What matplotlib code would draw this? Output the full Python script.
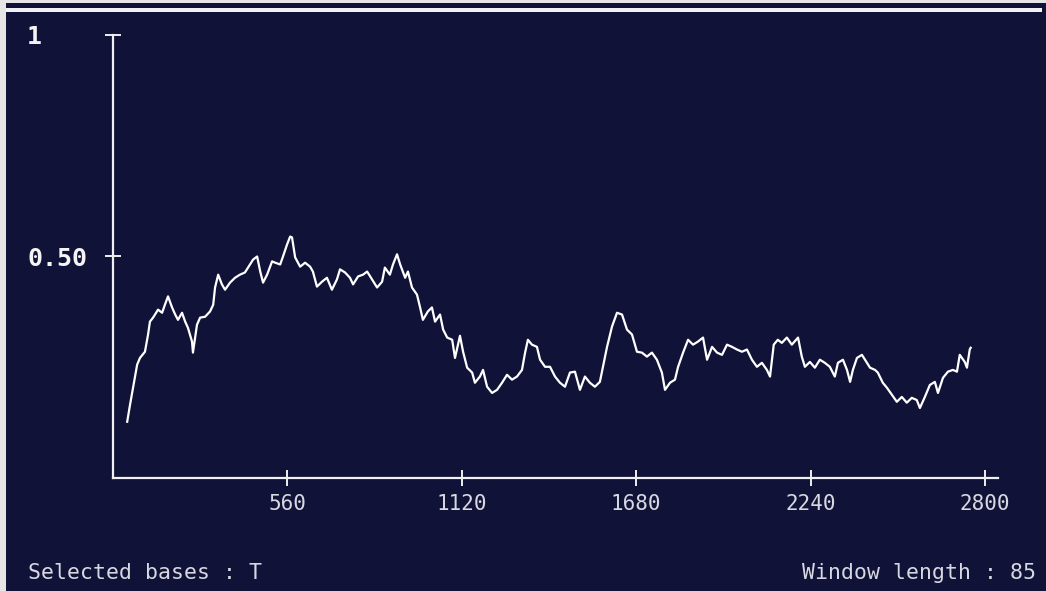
import matplotlib.pyplot as plt
from matplotlib.patches import Rectangle

# base position (centre of the 85-base window) and fraction of T in the window
position = [47, 56, 66, 79, 88, 104, 114, 120, 130, 146, 159, 168, 178, 191, 201, 210,
            223, 233, 242, 255, 258, 271, 281, 297, 313, 323, 329, 339, 351, 361, 377,
            393, 409, 425, 435, 451, 464, 474, 483, 496, 512, 522, 538, 547, 560, 570,
            576, 586, 602, 618, 634, 643, 656, 672, 688, 704, 720, 730, 746, 762, 772,
            788, 804, 817, 833, 849, 865, 874, 890, 900, 913, 923, 939, 948, 961, 977,
            987, 996, 1012, 1025, 1035, 1051, 1061, 1074, 1090, 1099, 1115, 1125, 1138,
            1154, 1163, 1179, 1189, 1202, 1218, 1234, 1250, 1266, 1282, 1298, 1314,
            1324, 1333, 1346, 1362, 1372, 1388, 1404, 1420, 1436, 1452, 1468, 1484,
            1500, 1516, 1532, 1548, 1564, 1574, 1587, 1603, 1619, 1635, 1651, 1667,
            1683, 1699, 1715, 1731, 1747, 1763, 1773, 1789, 1805, 1815, 1831, 1847,
            1863, 1879, 1895, 1908, 1924, 1940, 1956, 1972, 1988, 2004, 2020, 2036,
            2052, 2068, 2084, 2100, 2110, 2122, 2135, 2148, 2164, 2180, 2200, 2212,
            2222, 2238, 2254, 2270, 2286, 2302, 2318, 2328, 2344, 2357, 2367, 2376,
            2389, 2405, 2415, 2431, 2447, 2456, 2472, 2485, 2501, 2517, 2533, 2549,
            2565, 2581, 2591, 2607, 2623, 2639, 2649, 2665, 2681, 2697, 2710, 2719,
            2735, 2742, 2751, 2754]
t_fraction = [0.127, 0.165, 0.204, 0.256, 0.271, 0.285, 0.324, 0.353, 0.362, 0.380,
              0.373, 0.391, 0.410, 0.385, 0.369, 0.357, 0.373, 0.353, 0.339, 0.308,
              0.283, 0.346, 0.362, 0.364, 0.376, 0.391, 0.430, 0.459, 0.437, 0.425,
              0.441, 0.452, 0.459, 0.464, 0.475, 0.493, 0.500, 0.466, 0.441, 0.459,
              0.489, 0.486, 0.482, 0.500, 0.527, 0.545, 0.543, 0.498, 0.477, 0.486,
              0.477, 0.466, 0.432, 0.443, 0.452, 0.425, 0.448, 0.471, 0.464, 0.452,
              0.437, 0.455, 0.459, 0.466, 0.448, 0.430, 0.443, 0.475, 0.459, 0.482,
              0.505, 0.482, 0.452, 0.466, 0.430, 0.414, 0.385, 0.357, 0.376, 0.385,
              0.353, 0.369, 0.335, 0.317, 0.312, 0.271, 0.321, 0.285, 0.249, 0.238,
              0.215, 0.229, 0.244, 0.206, 0.192, 0.199, 0.215, 0.233, 0.222, 0.229,
              0.244, 0.283, 0.312, 0.301, 0.296, 0.267, 0.251, 0.251, 0.229, 0.215,
              0.206, 0.238, 0.240, 0.199, 0.229, 0.215, 0.206, 0.217, 0.251, 0.296,
              0.342, 0.373, 0.369, 0.335, 0.324, 0.285, 0.283, 0.274, 0.283, 0.267,
              0.238, 0.199, 0.215, 0.222, 0.251, 0.283, 0.312, 0.301, 0.308, 0.317,
              0.267, 0.296, 0.283, 0.278, 0.301, 0.296, 0.290, 0.285, 0.290, 0.267,
              0.251, 0.260, 0.244, 0.229, 0.301, 0.312, 0.305, 0.317, 0.301, 0.317,
              0.274, 0.251, 0.262, 0.249, 0.267, 0.260, 0.251, 0.229, 0.260, 0.267,
              0.244, 0.217, 0.244, 0.271, 0.278, 0.267, 0.249, 0.244, 0.238, 0.215,
              0.204, 0.188, 0.172, 0.183, 0.170, 0.181, 0.176, 0.158, 0.183, 0.210,
              0.217, 0.192, 0.226, 0.240, 0.244, 0.240, 0.278, 0.262, 0.249, 0.290,
              0.294]

x_ticks = [560, 1120, 1680, 2240, 2800]
y_ticks = [0.5, 1]
y_labels = ["0.50", "1"]

navy = "#111237"
fig = plt.figure(figsize=(10.46, 5.91), dpi=100, facecolor=navy)

# screen frame: pale edge on the left/top and a white bar under the top edge
fig.patches.append(Rectangle((0, 0), 0.006, 1, transform=fig.transFigure,
                             facecolor="#e6e6e6", edgecolor="none"))
fig.patches.append(Rectangle((0, 0.995), 1, 0.005, transform=fig.transFigure,
                             facecolor="#e6e6e6", edgecolor="none"))
fig.patches.append(Rectangle((0.006, 0.980), 0.99, 0.007, transform=fig.transFigure,
                             facecolor="#f2f2f2", edgecolor="none"))

ax = fig.add_axes([0.1076, 0.1912, 0.8466, 0.7496])
ax.set_facecolor(navy)
ax.plot(position, t_fraction, color="white", lw=1.6)

ax.set_xlim(0, 2842)
ax.set_ylim(0, 1)
for side in ["top", "right"]:
    ax.spines[side].set_visible(False)
for side in ["left", "bottom"]:
    ax.spines[side].set_color("#f0f0f0")
    ax.spines[side].set_linewidth(1.6)

ax.set_xticks(x_ticks)
ax.set_xticklabels([str(v) for v in x_ticks], family="DejaVu Sans Mono",
                   fontsize=15, color="#d8d8e2")
ax.tick_params(axis="x", direction="inout", length=11, width=1.4, color="#f0f0f0", pad=6)

ax.set_yticks(y_ticks)
ax.set_yticklabels(y_labels, family="DejaVu Sans Mono", fontsize=18,
                   fontweight="bold", color="#f4f4f4", ha="left", va="center_baseline")
ax.tick_params(axis="y", direction="inout", length=11, width=1.4, color="#f0f0f0", pad=56)

fig.text(0.027, 0.021, "Selected bases : T", family="DejaVu Sans Mono", fontsize=15.5,
         color="#d8d8e2", ha="left", va="baseline")
fig.text(0.990, 0.021, "Window length : 85", family="DejaVu Sans Mono", fontsize=15.5,
         color="#d8d8e2", ha="right", va="baseline")

fig.savefig("out.png", dpi=100, facecolor=navy)
